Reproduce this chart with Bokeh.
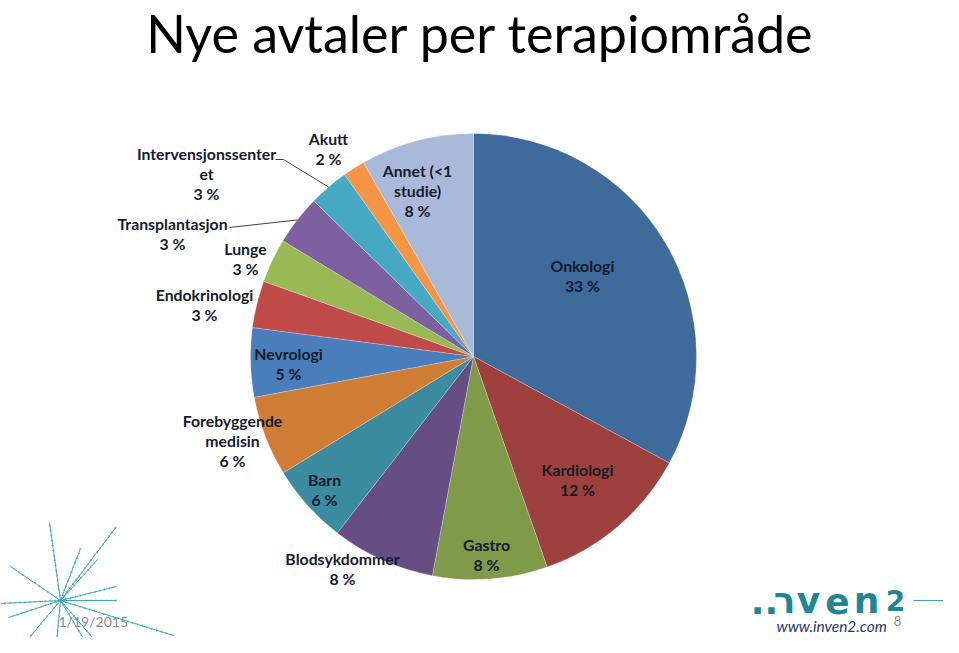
import numpy as np
from bokeh.plotting import figure
from bokeh.models import ColumnDataSource, Range1d
from bokeh.core.properties import value
from bokeh.embed import file_html
from bokeh.resources import INLINE

# ---------------- data ----------------
categories = ["Onkologi", "Kardiologi", "Gastro", "Blodsykdommer", "Barn",
              "Forebyggende medisin", "Nevrologi", "Endokrinologi", "Lunge",
              "Transplantasjon", "Intervensjonssenteret", "Akutt", "Annet (<1 studie)"]
values = [32.9, 11.7, 8.3, 7.5, 5.8, 5.8, 5.0, 3.4, 3.2, 3.6, 2.9, 1.6, 8.2]
pct_labels = ["33 %", "12 %", "8 %", "8 %", "6 %", "6 %", "5 %", "3 %", "3 %",
              "3 %", "3 %", "2 %", "8 %"]
label_lines = [["Onkologi"], ["Kardiologi"], ["Gastro"], ["Blodsykdommer"], ["Barn"],
               ["Forebyggende", "medisin"], ["Nevrologi"], ["Endokrinologi"], ["Lunge"],
               ["Transplantasjon"], ["Intervensjonssenter", "et"], ["Akutt"],
               ["Annet (<1", "studie)"]]
title_text = "Nye avtaler per terapiområde"
date_text = "1/19/2015"
url_text = "www.inven2.com"
page_no = "8"
logo_glyphs = ["..", "ר", "v", "e", "n", "2"]

# ---------------- style / layout ----------------
colors = ["#3F6A9C", "#9E413E", "#7F9A48", "#664E85", "#3A8BA0", "#D07E36", "#4A7EBB",
          "#BE4B48", "#98B954", "#7D60A0", "#46AAC5", "#F69545", "#A9B9D9"]
# label anchor (center x, first-line center y) in page pixels
label_pos = [(582, 265), (577, 469), (486, 544), (342, 558), (324, 479), (232, 420),
             (288, 353), (204, 294), (245, 248), (172, 223), (206, 153), (328, 138),
             (417, 170)]
LINE_H = 20
leader_start = {9: [(229, 227)], 10: [(275, 159), (283, 159)]}
logo_x = [764, 784, 808, 837, 866, 895]
logo_size = ["36px", "36px", "36px", "36px", "36px", "28px"]

W, H, OFF = 943, 637, 0
CX, CY, R = 473, 356, 223

p = figure(width=W, height=H, x_range=Range1d(OFF, OFF + W),
           y_range=Range1d(-(OFF + H), -OFF), output_backend="svg",
           toolbar_location=None, min_border=0)
p.axis.visible = False
p.grid.visible = False
p.outline_line_color = None
p.background_fill_color = "white"
p.border_fill_color = "white"

# ---------------- pie ----------------
vals = np.array(values, dtype=float)
frac = vals / vals.sum()
cum = np.concatenate([[0.0], np.cumsum(frac)])
start = np.pi / 2 - 2 * np.pi * cum[:-1]
end = np.pi / 2 - 2 * np.pi * cum[1:]
src = ColumnDataSource(dict(start=start, end=end, color=colors, cat=categories))
p.wedge(x=CX, y=-CY, radius=R, start_angle="start", end_angle="end",
        direction="clock", fill_color="color", line_color="white",
        line_width=0.6, line_alpha=0.4, source=src)

# leader lines
mid = (start + end) / 2
for idx, pts in leader_start.items():
    xs = [q[0] for q in pts] + [CX + R * np.cos(mid[idx])]
    ys = [-q[1] for q in pts] + [-CY + R * np.sin(mid[idx])]
    p.line(xs, ys, line_color="#404040", line_width=1)

# labels
tx, ty, tt = [], [], []
for i, lines in enumerate(label_lines):
    x0, y0 = label_pos[i]
    for k, s in enumerate(lines + [pct_labels[i]]):
        tx.append(x0)
        ty.append(-(y0 + k * LINE_H))
        tt.append(s)
p.text(x=tx, y=ty, text=tt, text_font=value("Lato"), text_font_style="bold",
       text_font_size="15.8px", text_align="center", text_baseline="middle",
       text_color="#141B2D")

# title
p.text(x=[480], y=[-32], text=[title_text], text_font=value("Lato"),
       text_font_size="52px", text_align="center", text_baseline="middle",
       text_color="black")

# ---------------- decorations ----------------
burst_c = (60, 600)
burst_ends = [(49, 522), (116, 526), (80, 548), (97, 559), (10, 566), (116, 586),
              (116, 600), (0, 603), (8, 617), (28, 638), (55, 653), (92, 653),
              (92, 637), (173, 635)]
bx1 = [e[0] for e in burst_ends]
by1 = [-e[1] for e in burst_ends]
p.segment(x0=[burst_c[0]] * len(bx1), y0=[-burst_c[1]] * len(bx1), x1=bx1, y1=by1,
          line_color="#3FA7BA", line_width=1)
p.segment(x0=[burst_c[0]] * len(bx1), y0=[-burst_c[1]] * len(bx1), x1=bx1, y1=by1,
          line_color="#3FA7BA", line_width=2.2, line_dash="1 4", line_alpha=0.8)

p.text(x=[58], y=[-621], text=[date_text], text_font=value("Lato"),
       text_font_size="14px", text_align="left", text_baseline="middle",
       text_color="#8C8C8C")

# logo
p.text(x=logo_x, y=[-600] * len(logo_x), text=logo_glyphs,
       text_font=value("DejaVu Sans"), text_font_style="bold",
       text_font_size=logo_size,
       text_align="center", text_baseline="middle", text_color="#1E8796")
p.line([913, 960], [-600, -600], line_color="#3FA7BA", line_width=1)
p.text(x=[776], y=[-625], text=[url_text], text_font=value("Lato"),
       text_font_style="italic", text_font_size="15.4px", text_align="left",
       text_baseline="middle", text_color="#1F3864")
p.text(x=[897], y=[-620], text=[page_no], text_font=value("Lato"),
       text_font_size="13px", text_align="center", text_baseline="middle",
       text_color="#8C8C8C")

open("out.html", "w").write(file_html(p, INLINE))
